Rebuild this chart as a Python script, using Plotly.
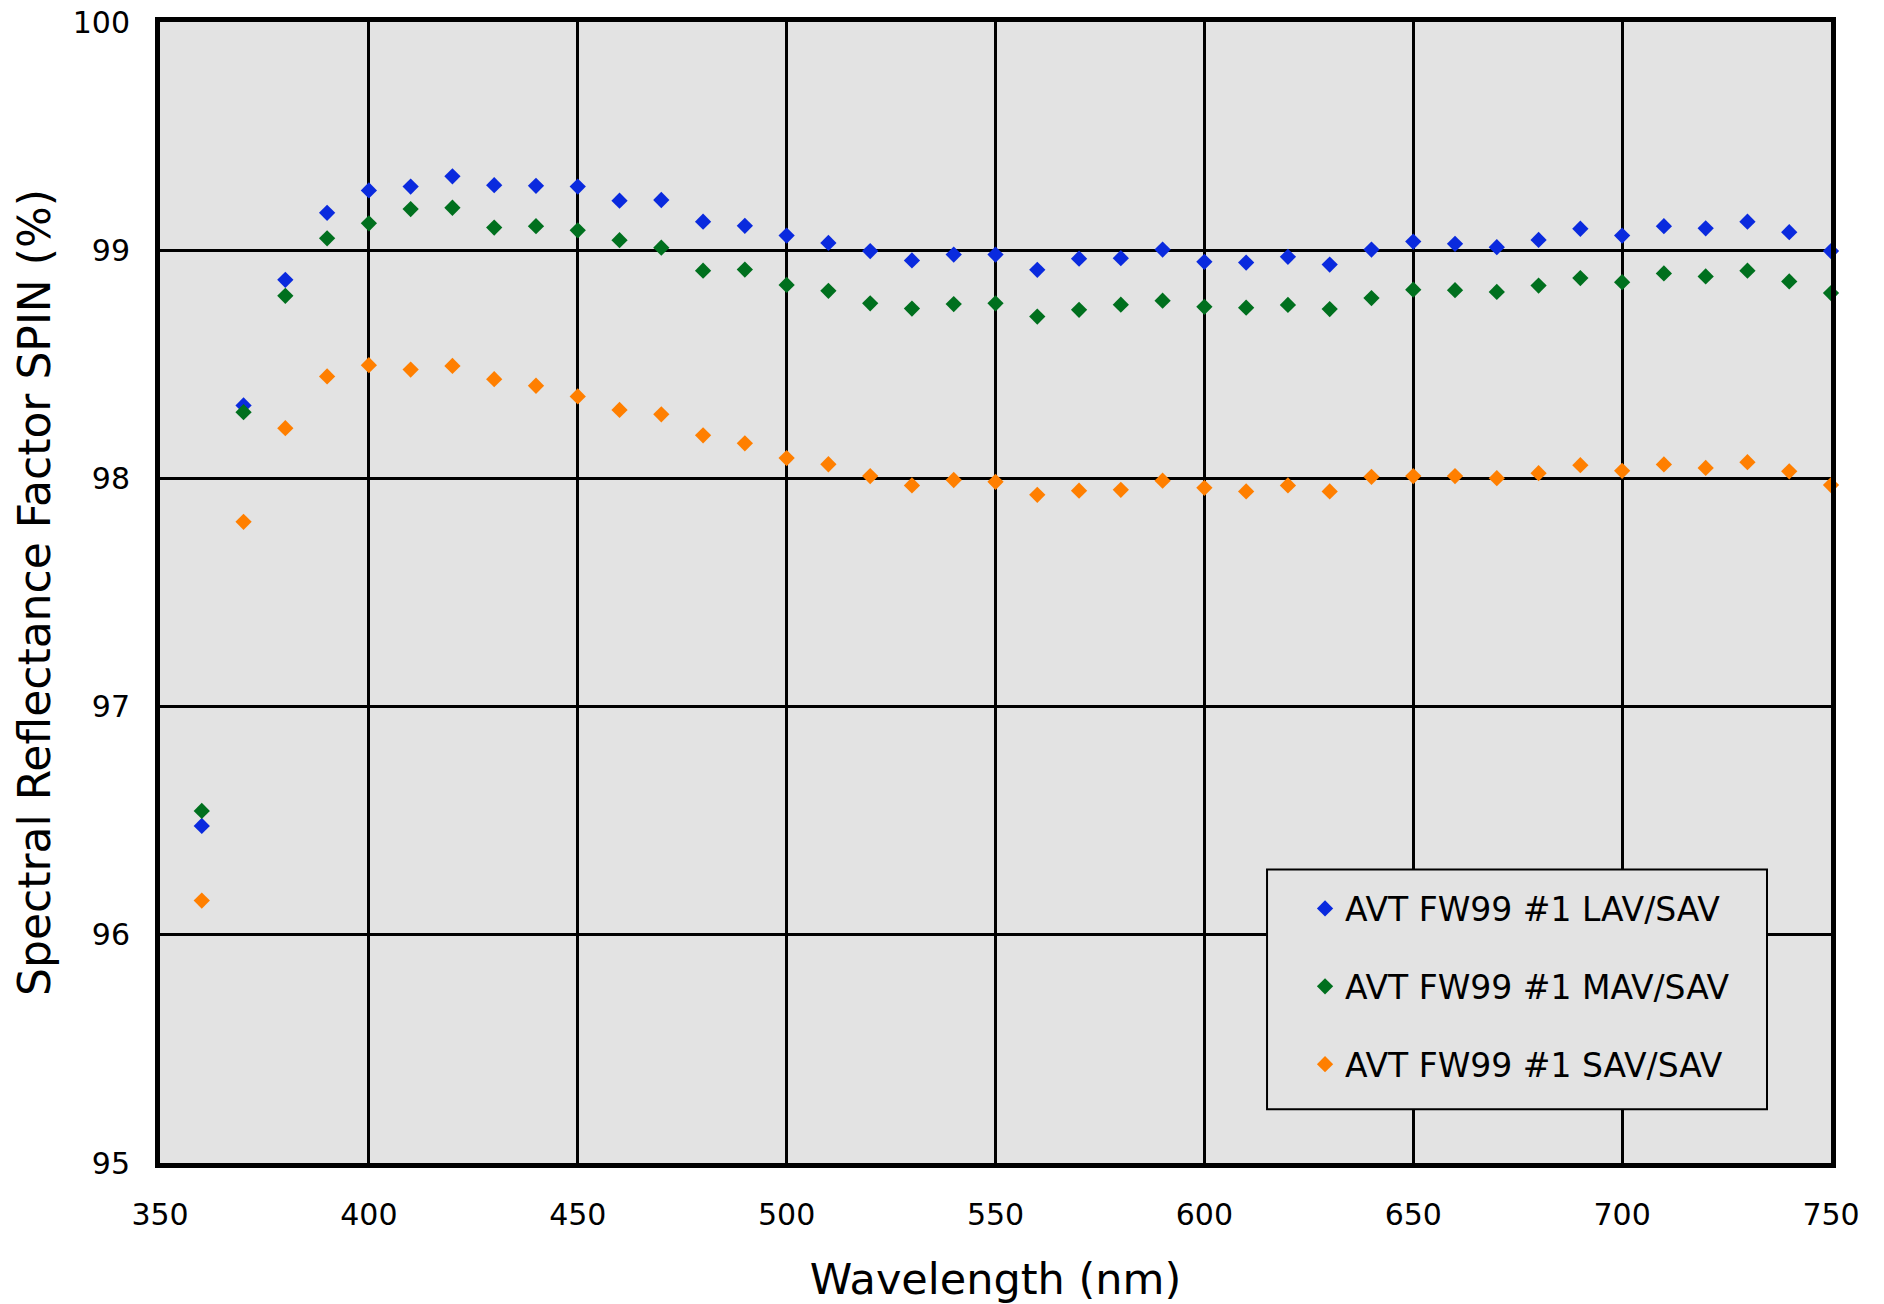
import plotly.graph_objects as go

wavelength = [360, 370, 380, 390, 400, 410, 420, 430, 440, 450,
              460, 470, 480, 490, 500, 510, 520, 530, 540, 550,
              560, 570, 580, 590, 600, 610, 620, 630, 640, 650,
              660, 670, 680, 690, 700, 710, 720, 730, 740, 750]

lav_sav = [96.477, 98.32, 98.87, 99.164, 99.262, 99.279, 99.324, 99.285, 99.282, 99.279,
           99.217, 99.220, 99.125, 99.107, 99.064, 99.032, 98.996, 98.955, 98.981, 98.981,
           98.914, 98.963, 98.965, 99.003, 98.949, 98.946, 98.971, 98.937, 99.003, 99.038,
           99.028, 99.013, 99.045, 99.094, 99.064, 99.105, 99.096, 99.125, 99.079, 98.996]

mav_sav = [96.543, 98.29, 98.80, 99.052, 99.118, 99.180, 99.186, 99.099, 99.105, 99.087,
           99.044, 99.011, 98.910, 98.915, 98.848, 98.822, 98.767, 98.744, 98.764, 98.767,
           98.709, 98.739, 98.761, 98.779, 98.752, 98.748, 98.760, 98.742, 98.790, 98.827,
           98.825, 98.817, 98.845, 98.878, 98.860, 98.898, 98.885, 98.910, 98.863, 98.812]

sav_sav = [96.150, 97.81, 98.22, 98.447, 98.496, 98.477, 98.493, 98.435, 98.406, 98.359,
           98.300, 98.281, 98.189, 98.154, 98.089, 98.062, 98.010, 97.969, 97.993, 97.985,
           97.928, 97.946, 97.950, 97.990, 97.959, 97.943, 97.969, 97.943, 98.007, 98.010,
           98.010, 98.001, 98.023, 98.058, 98.033, 98.061, 98.046, 98.071, 98.031, 97.971]

series_names = ["AVT FW99 #1 LAV/SAV", "AVT FW99 #1 MAV/SAV", "AVT FW99 #1 SAV/SAV"]
series_colors = ["#0a2ade", "#00701e", "#ff7f00"]

x_ticks = [350, 400, 450, 500, 550, 600, 650, 700, 750]
y_ticks = [95, 96, 97, 98, 99, 100]

FONT = "Verdana, DejaVu Sans, sans-serif"

fig = go.Figure()
for name, vals, col in zip(series_names, [lav_sav, mav_sav, sav_sav], series_colors):
    fig.add_trace(go.Scatter(
        x=wavelength, y=vals, mode="markers", name=name, legendgroup=name,
        marker=dict(symbol="diamond", size=12.5, color=col, line=dict(width=0)),
        cliponaxis=False,
    ))

# legend frame (grey box with black border, drawn over gridlines)
fig.add_shape(type="rect", xref="paper", yref="paper",
              x0=0.6625, x1=0.9617, y0=0.0472, y1=0.2572,
              fillcolor="#e3e3e3", line=dict(color="black", width=2), layer="above")

fig.update_layout(
    width=1884, height=1304,
    paper_bgcolor="white", plot_bgcolor="#e3e3e3",
    margin=dict(l=160, r=53, t=22, b=141, autoexpand=False),
    font=dict(family=FONT, color="black"),
    showlegend=True,
    legend=dict(
        x=0.6625, y=0.2476, xanchor="left", yanchor="top",
        bgcolor="rgba(0,0,0,0)", borderwidth=0,
        font=dict(size=33, family=FONT, color="black"),
        tracegroupgap=32, indentation=38,
        itemsizing="trace",
    ),
)
fig.update_xaxes(
    range=[350, 750], tickvals=x_ticks, ticktext=[str(v) for v in x_ticks],
    showgrid=True, gridcolor="black", gridwidth=2.5,
    showline=True, linecolor="black", linewidth=5, mirror=True,
    ticks="", ticklabelstandoff=21, automargin=False, ticklabeloverflow="allow",
    tickfont=dict(size=30, family=FONT),
    title=dict(text="Wavelength (nm)", font=dict(size=43, family=FONT), standoff=41),
    zeroline=False,
)
fig.update_yaxes(
    range=[95, 100], tickvals=y_ticks, ticktext=[str(v) for v in y_ticks],
    showgrid=True, gridcolor="black", gridwidth=2.5,
    showline=True, linecolor="black", linewidth=5, mirror=True,
    ticks="", ticklabelstandoff=19, automargin=False, ticklabeloverflow="allow",
    tickfont=dict(size=30, family=FONT),
    title=dict(text="Spectral Reflectance Factor SPIN (%)", font=dict(size=44, family=FONT), standoff=10),
    zeroline=False,
)

fig.write_html("out.html", config={"displayModeBar": False},
               post_script="document.body.style.margin='0';")
